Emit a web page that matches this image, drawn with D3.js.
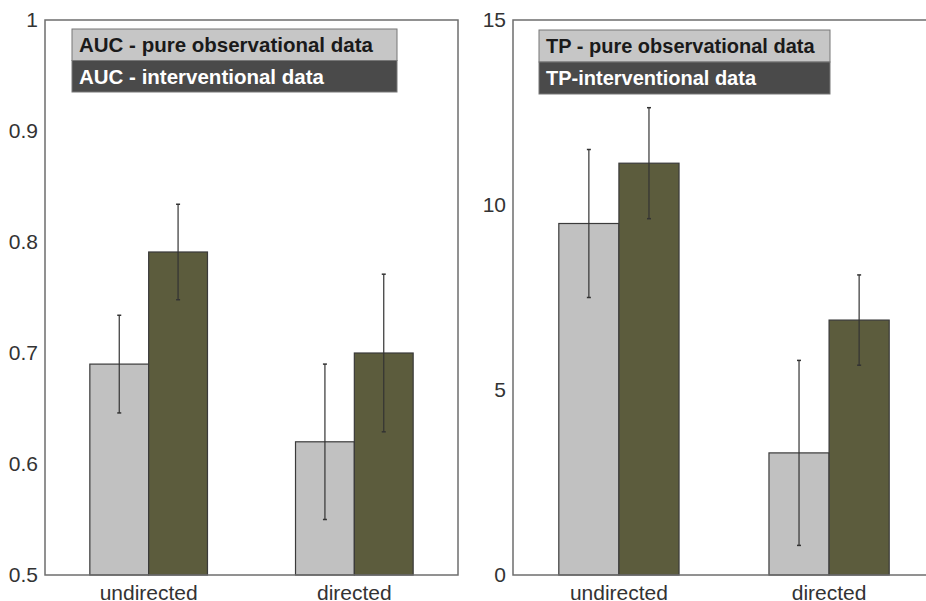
<!DOCTYPE html>
<html>
<head>
<meta charset="utf-8">
<script src="https://cdn.jsdelivr.net/npm/d3@7"></script>
<style>
  body { margin: 0; background: #fff; overflow: hidden; }
  svg text { font-family: "Liberation Sans", Arial, sans-serif; }
</style>
</head>
<body>
<div id="chart"></div>
<script>
// categories and series
const categories = ["undirected", "directed"];
const seriesKeys = ["observational", "interventional"];

// AUC panel
const aucMeans = [[0.69, 0.791], [0.62, 0.70]];
const aucErrors = [[0.044, 0.043], [0.07, 0.071]];
const aucTicks = [0.5, 0.6, 0.7, 0.8, 0.9, 1];
const aucTickLabels = ["0.5", "0.6", "0.7", "0.8", "0.9", "1"];
const aucLegend = ["AUC - pure observational data", "AUC - interventional data"];

// TP panel
const tpMeans = [[9.5, 11.13], [3.3, 6.89]];
const tpErrors = [[2.0, 1.5], [2.5, 1.22]];
const tpTicks = [0, 5, 10, 15];
const tpTickLabels = ["0", "5", "10", "15"];
const tpLegend = ["TP - pure observational data", "TP-interventional data"];

const colors = ["#c1c1c1", "#5c5c3d"];
const legendFill = ["#c6c6c6", "#4a4a4a"];
const legendText = ["#1a1a1a", "#ffffff"];

const svg = d3.select("#chart").append("svg")
    .attr("width", 926)
    .attr("height", 601);

function drawPanel(opts) {
    const g = svg.append("g");

    const y = d3.scaleLinear().domain(opts.domain).range([575, 20]);
    const x0 = d3.scaleBand().domain(categories).range([opts.left, opts.right])
        .paddingInner(0.428).paddingOuter(0.218);
    const x1 = d3.scaleBand().domain(seriesKeys).range([0, x0.bandwidth()]);

    // bars
    categories.forEach((c, ci) => {
        seriesKeys.forEach((s, si) => {
            g.append("rect")
                .attr("x", x0(c) + x1(s))
                .attr("y", y(opts.means[ci][si]))
                .attr("width", x1.bandwidth())
                .attr("height", y(opts.domain[0]) - y(opts.means[ci][si]))
                .attr("fill", colors[si])
                .attr("stroke", "#3a3a3a")
                .attr("stroke-width", 1.2);
        });
    });

    // error bars
    categories.forEach((c, ci) => {
        seriesKeys.forEach((s, si) => {
            const cx = x0(c) + x1(s) + x1.bandwidth() / 2;
            const m = opts.means[ci][si], e = opts.errors[ci][si];
            g.append("line")
                .attr("x1", cx).attr("x2", cx)
                .attr("y1", y(m + e)).attr("y2", y(m - e))
                .attr("stroke", "#333").attr("stroke-width", 1.2);
            [m + e, m - e].forEach(v => {
                g.append("line")
                    .attr("x1", cx - 2).attr("x2", cx + 2)
                    .attr("y1", y(v)).attr("y2", y(v))
                    .attr("stroke", "#333").attr("stroke-width", 1.5);
            });
        });
    });

    // frame
    g.append("rect")
        .attr("x", opts.left).attr("y", 20)
        .attr("width", opts.right - opts.left).attr("height", 555)
        .attr("fill", "none").attr("stroke", "#6e6e6e").attr("stroke-width", 1.5);

    // y axis
    const yAxis = d3.axisLeft(y).tickValues(opts.ticks)
        .tickFormat((d, i) => opts.tickLabels[i]).tickSize(0).tickPadding(7);
    const ya = g.append("g").attr("transform", `translate(${opts.left},0)`).call(yAxis);
    ya.select(".domain").remove();
    ya.selectAll("text").style("font-size", "21px").attr("fill", "#333")
        .style("font-family", "'Liberation Sans', Arial, sans-serif");

    // x axis labels
    const xAxis = d3.axisBottom(x0).tickSize(0).tickPadding(10);
    const xa = g.append("g").attr("transform", "translate(0,575)").call(xAxis);
    xa.select(".domain").remove();
    xa.selectAll("text").style("font-size", "21px").attr("fill", "#333")
        .style("font-family", "'Liberation Sans', Arial, sans-serif");

    // legend
    opts.legend.forEach((label, i) => {
        const ly = opts.legendTop + i * opts.legendH;
        g.append("rect")
            .attr("x", opts.legendLeft).attr("y", ly)
            .attr("width", opts.legendW).attr("height", opts.legendH)
            .attr("fill", legendFill[i]).attr("stroke", "#777").attr("stroke-width", 1);
        g.append("text")
            .attr("x", opts.legendLeft + 7).attr("y", ly + opts.legendH / 2)
            .attr("dy", "0.36em")
            .attr("fill", legendText[i])
            .style("font-size", opts.legendFont + "px")
            .style("font-weight", "bold")
            .text(label);
    });
}

drawPanel({
    left: 45, right: 458, domain: [0.5, 1],
    means: aucMeans, errors: aucErrors,
    ticks: aucTicks, tickLabels: aucTickLabels,
    legend: aucLegend,
    legendLeft: 72, legendTop: 29, legendW: 325, legendH: 31.5, legendFont: 20.5
});

drawPanel({
    left: 513, right: 935, domain: [0, 15],
    means: tpMeans, errors: tpErrors,
    ticks: tpTicks, tickLabels: tpTickLabels,
    legend: tpLegend,
    legendLeft: 539, legendTop: 30, legendW: 291, legendH: 32, legendFont: 20
});
</script>
</body>
</html>
